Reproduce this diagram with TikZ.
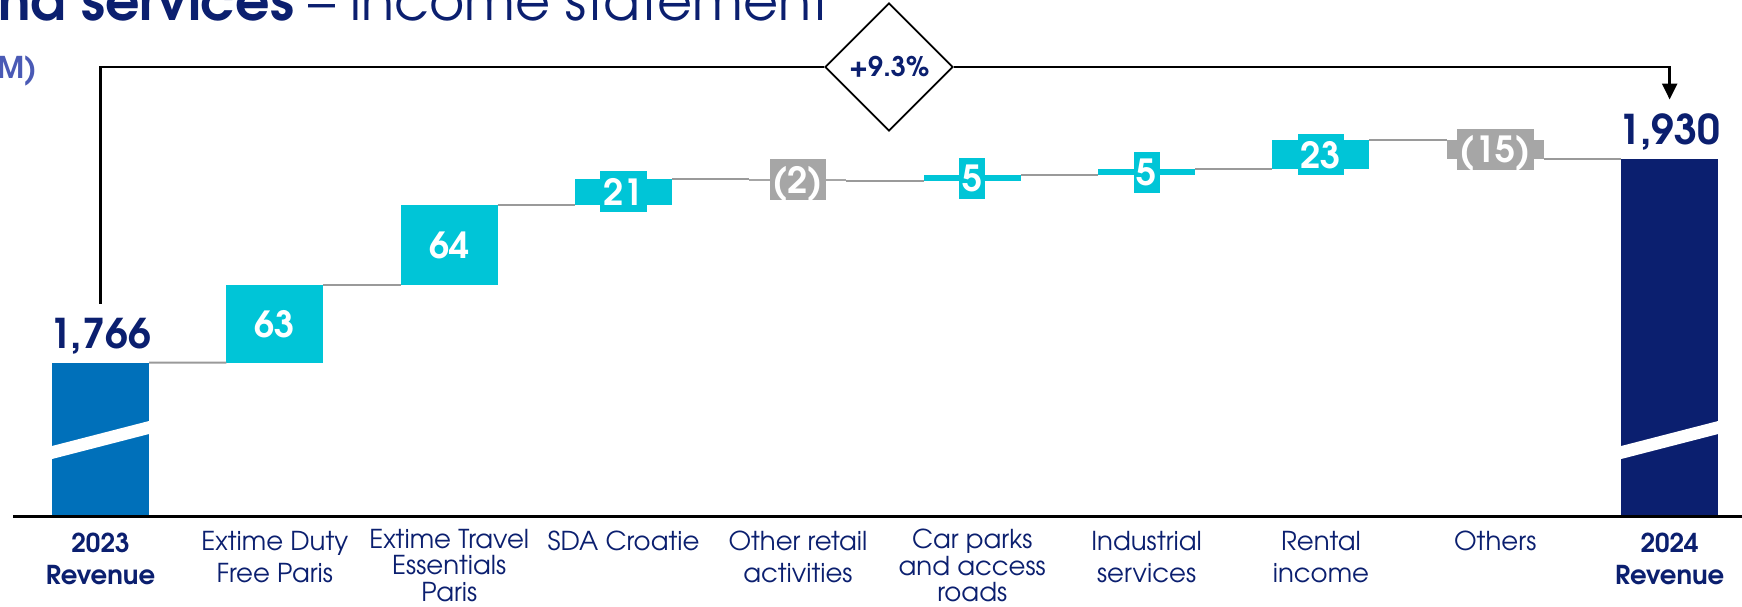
\documentclass[tikz,border=0pt]{standalone}
\usepackage{fontspec}
\setmainfont{TeX Gyre Adventor}
\usetikzlibrary{shapes.geometric,arrows.meta}

\definecolor{navy}{HTML}{0B1F6F}
\definecolor{blueA}{HTML}{0070BA}
\definecolor{cyanbar}{HTML}{00C5D7}
\definecolor{greybar}{HTML}{A6A6A6}
\definecolor{linkgrey}{HTML}{9A9A9A}
\definecolor{unitblue}{HTML}{4A5AB5}

\begin{document}
\begin{tikzpicture}[x=1pt,y=-1pt,
  bar/.style={rectangle,inner sep=0,outer sep=0,minimum width=97pt},
  vallab/.style={inner xsep=3pt,inner ysep=0,outer sep=0,minimum height=41pt,text height=27pt,text depth=0pt,text=white,font=\fontsize{36}{36}\selectfont\bfseries},
  total/.style={inner sep=0,outer sep=0,text=navy,text height=30pt,text depth=0pt,font=\fontsize{41}{41}\selectfont\bfseries},
  catlab/.style={anchor=north,inner sep=0,align=center,text=navy,font=\fontsize{26}{32}\selectfont},
  link/.style={linkgrey,line width=2pt}]

\useasboundingbox (0,0) rectangle (1742,606);

\node[anchor=base west,inner sep=0,text=navy,font=\fontsize{54}{54}\selectfont] (title) at (-2,20) {\textbf{nd services} – income statement};
\node[anchor=base east,inner sep=0,text=unitblue,font=\fontsize{30}{30}\selectfont\bfseries] (unit) at (37,78) {M)};

% bars
\foreach \i/\ytop/\ybot/\col in {0/362.7/516/blueA,1/284.7/362.7/cyanbar,2/204.5/284.7/cyanbar,3/178.5/204.5/cyanbar,4/178.5/181/greybar,5/175/181/cyanbar,6/169/175/cyanbar,7/140/169/cyanbar,8/140/158.5/greybar,9/158.5/516/navy}
  \node[bar,fill=\col,minimum height={(\ybot-\ytop)*1pt},anchor=south] (b\i) at ({100.5+174.35*\i},\ybot) {};

\foreach \i in {0,9}
  \fill[white] ([yshift=57pt]b\i.south west) -- ([yshift=70pt]b\i.south west) -- ([yshift=95pt]b\i.south east) -- ([yshift=82pt]b\i.south east) -- cycle;

\draw[link] (b0.north east) -- (b1.south west);
\draw[link] (b1.north east) -- (b2.south west);
\draw[link] (b2.north east) -- (b3.south west);
\draw[link] (b3.north east) -- (b4.north west);
\draw[link] (b4.south east) -- (b5.south west);
\draw[link] (b5.north east) -- (b6.south west);
\draw[link] (b6.north east) -- (b7.south west);
\draw[link] (b7.north east) -- (b8.north west);
\draw[link] (b8.south east) -- (b9.north west);

\foreach \i/\v/\col in {1/63/cyanbar,2/64/cyanbar,3/21/cyanbar,4/{(2)}/greybar,5/5/cyanbar,6/5/cyanbar,7/23/cyanbar,8/{(15)}/greybar}
  \node[vallab,fill=\col] (v\i) at (b\i.center) {\v};

\node[total,anchor=south] (t0) at ([yshift=14pt]b0.north) {1,766};
\node[total,anchor=south] (t9) at ([yshift=14pt]b9.north) {1,930};

\node[diamond,draw=black,line width=1.8pt,minimum width=128pt,minimum height=128pt,inner sep=0,text=navy,font=\fontsize{27}{27}\selectfont\bfseries] (growth) at (889,67) {+9.3\%};
\draw[line width=2.5pt,shorten <=15pt] (t0.north) |- (growth.west);
\draw[line width=2.5pt,-{Triangle[length=16pt,width=15pt]},shorten >=15pt] (growth.east) -| (t9.north);

\draw[line width=3pt] (13,516.5) -- (1742,516.5);

\foreach \i/\txt in {1/{Extime Duty\\Free Paris},4/{Other retail\\activities},6/{Industrial\\services},7/{Rental\\income}}
  \node[catlab] (c\i) at ({100.5+174.35*\i},531) {\txt};
\foreach \i/\txt in {3/{SDA Croatie},8/{Others}}
  \node[catlab] (c\i) at ({100.5+174.35*\i},531) {\txt};
\foreach \i/\txt in {2/{Extime Travel\\Essentials\\Paris},5/{Car parks\\and access\\roads}}
  \node[catlab,font=\fontsize{26}{26.5}\selectfont] (c\i) at ({100.5+174.35*\i},529) {\txt};
\foreach \i/\yr in {0/2023,9/2024}
  \node[catlab,font=\fontsize{26}{32}\selectfont\bfseries] (c\i) at ({100.5+174.35*\i},533) {\yr\\Revenue};

\end{tikzpicture}
\end{document}
